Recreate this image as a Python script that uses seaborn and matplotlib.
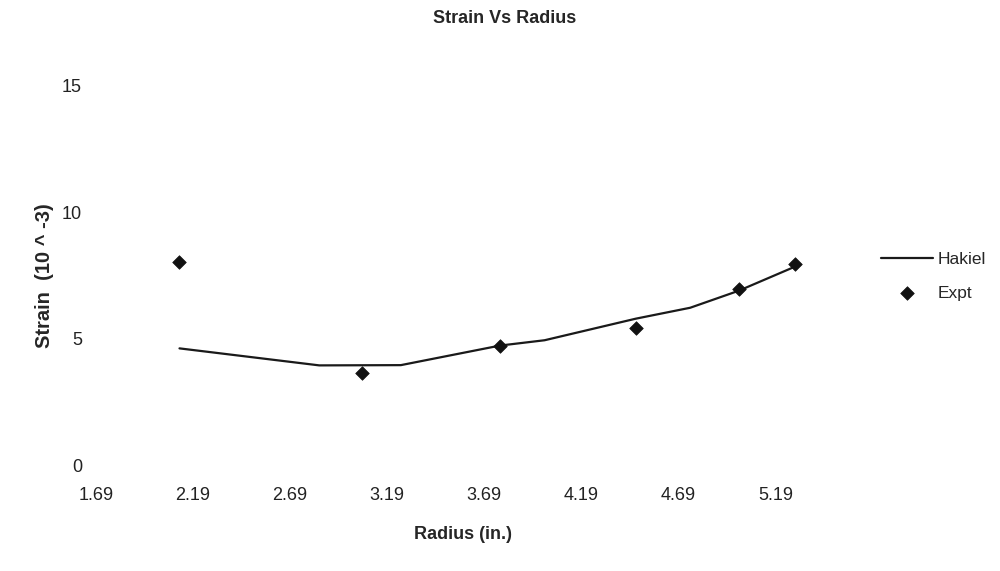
import matplotlib
matplotlib.use("Agg")
import matplotlib.pyplot as plt
import seaborn as sns
import pandas as pd

# Experimental strain measurements
expt_radius = [2.12, 3.06, 3.77, 4.47, 5.00, 5.29]
expt_strain = [8.03, 3.67, 4.72, 5.42, 6.96, 7.95]

# Hakiel model prediction
hakiel_radius = [2.12, 2.84, 3.26, 3.77, 4.00, 4.47, 4.75, 5.00, 5.29]
hakiel_strain = [4.63, 3.96, 3.97, 4.74, 4.95, 5.80, 6.23, 6.90, 7.85]

x_ticks = [1.69, 2.19, 2.69, 3.19, 3.69, 4.19, 4.69, 5.19]
y_ticks = [0, 5, 10, 15]

sns.set_theme(style="white")
plt.rcParams["font.family"] = ["Liberation Sans", "DejaVu Sans"]

fig = plt.figure(figsize=(10, 5.71), dpi=100)
ax = fig.add_axes([0.096, 0.184, 0.734, 0.667])

hakiel = pd.DataFrame({"radius": hakiel_radius, "strain": hakiel_strain})
expt = pd.DataFrame({"radius": expt_radius, "strain": expt_strain})

sns.lineplot(data=hakiel, x="radius", y="strain", ax=ax, color="#1a1a1a",
             linewidth=1.6, label="Hakiel")
sns.scatterplot(data=expt, x="radius", y="strain", ax=ax, color="#111111",
                marker="D", s=48, edgecolor="#111111", linewidth=0.5,
                label="Expt", zorder=3)

ax.set_xlim(1.69, 5.47)
ax.set_ylim(0, 15)
ax.set_xticks(x_ticks)
ax.set_xticklabels([f"{v:.2f}" for v in x_ticks])
ax.set_yticks(y_ticks)
for s in ax.spines.values():
    s.set_visible(False)
ax.tick_params(axis="both", length=0, labelsize=13, colors="#222222")
ax.tick_params(axis="x", pad=15)
ax.tick_params(axis="y", pad=10)

ax.set_xlabel("Radius (in.)", fontsize=13, fontweight="bold", labelpad=16)
ax.set_ylabel("Strain  (10 ^ -3)", fontsize=14.5, fontweight="bold", labelpad=6)
fig.suptitle("Strain Vs Radius", x=0.505, y=0.982, fontsize=13, fontweight="bold")

ax.get_legend().remove()
handles, labels = ax.get_legend_handles_labels()
fig.legend(handles, labels, loc="center left", bbox_to_anchor=(0.865, 0.516),
           frameon=False, fontsize=12.5, handlelength=3.0, handletextpad=0.3,
           labelspacing=1.05)

fig.savefig("out.png", dpi=100, facecolor="white")
